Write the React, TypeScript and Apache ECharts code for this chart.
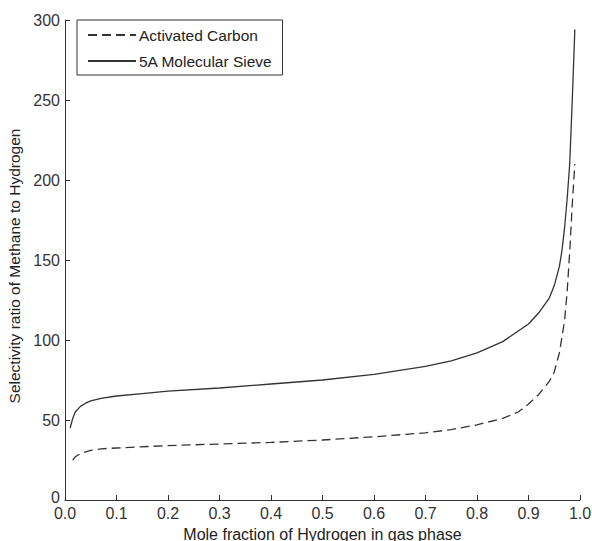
import React, { useEffect, useRef } from "react";
import * as echarts from "echarts";

const xSolid = [0.01, 0.015, 0.02, 0.03, 0.04, 0.05, 0.07, 0.1, 0.15, 0.2, 0.3, 0.4, 0.5, 0.6, 0.7, 0.75, 0.8, 0.85, 0.9, 0.92, 0.94, 0.95, 0.96, 0.965, 0.97, 0.975, 0.98, 0.985, 0.99];
const ySolid = [45, 51, 55, 58.5, 60.5, 62, 63.5, 65, 66.5, 68, 70, 72.5, 75, 78.5, 83.5, 87, 92, 99, 110, 117, 126, 134, 146, 156, 170, 188, 210, 250, 294];

const xDashed = [0.015, 0.02, 0.03, 0.05, 0.07, 0.1, 0.2, 0.3, 0.4, 0.5, 0.6, 0.7, 0.75, 0.8, 0.85, 0.88, 0.9, 0.92, 0.94, 0.95, 0.96, 0.97, 0.975, 0.98, 0.985, 0.99];
const yDashed = [25, 27, 29, 31, 32, 32.5, 34, 35, 36, 37.5, 39.5, 42, 44, 47, 51, 55, 60, 66, 74, 80, 92, 112, 130, 155, 185, 210];

const seriesNames = ["Activated Carbon", "5A Molecular Sieve"];
const xTitle = "Mole fraction of Hydrogen in gas phase";
const yTitle = "Selectivity ratio of Methane to Hydrogen";

const FONT = "'Liberation Sans', Arial, sans-serif";
const INK = "#333";

export default function App() {
  const ref = useRef<HTMLDivElement>(null);
  useEffect(() => {
    if (!ref.current) return;
    const chart = echarts.init(ref.current, undefined, { renderer: "svg" });
    chart.setOption({
      animation: false,
      backgroundColor: "#fff",
      textStyle: { fontFamily: FONT },
      grid: { left: 65, right: 12, top: 20, bottom: 41, containLabel: false, outerBoundsMode: "none" },
      legend: {
        orient: "vertical",
        left: 77,
        top: 20,
        padding: [7, 10, 6, 10],
        itemWidth: 48,
        itemHeight: 14,
        itemGap: 10,
        borderColor: INK,
        borderWidth: 1,
        backgroundColor: "#fff",
        itemStyle: { color: "transparent", borderWidth: 0, opacity: 0 },
        textStyle: { fontFamily: FONT, fontSize: 15.5, color: "#222", padding: [0, 0, 0, -2] },
        data: seriesNames,
      },
      xAxis: {
        type: "value",
        min: 0,
        max: 1,
        interval: 0.1,
        name: xTitle,
        nameLocation: "middle",
        nameGap: 26,
        nameTextStyle: { fontFamily: FONT, fontSize: 16, color: "#222" },
        axisLine: { show: true, lineStyle: { color: INK, width: 1 } },
        axisTick: { show: true, inside: true, length: 5, lineStyle: { color: INK } },
        axisLabel: {
          fontFamily: FONT,
          fontSize: 16,
          lineHeight: 12,
          color: "#333",
          margin: 7,
          formatter: (v: number) => v.toFixed(1),
        },
        splitLine: { show: false },
      },
      yAxis: {
        type: "value",
        min: 0,
        max: 300,
        interval: 50,
        name: yTitle,
        nameLocation: "middle",
        nameGap: 43,
        nameTextStyle: { fontFamily: FONT, fontSize: 15.5, color: "#222", padding: [0, 12, 0, 0] },
        axisLine: { show: true, lineStyle: { color: INK, width: 1 } },
        axisTick: { show: true, inside: true, length: 5, lineStyle: { color: INK } },
        axisLabel: {
          fontFamily: FONT,
          fontSize: 16,
          lineHeight: 12,
          color: "#333",
          margin: 5,
          formatter: (v: number) => (v === 0 ? "{z|0}" : String(v)),
          rich: { z: { fontFamily: FONT, fontSize: 16, lineHeight: 12, color: "#333", padding: [0, 0, 5, 0] } },
        },
        splitLine: { show: false },
      },
      series: [
        {
          name: seriesNames[0],
          type: "line",
          symbol: "none",
          smooth: false,
          data: xDashed.map((x, i) => [x, yDashed[i]]),
          lineStyle: { color: INK, width: 1.3, type: [9, 5] },
          itemStyle: { color: INK },
        },
        {
          name: seriesNames[1],
          type: "line",
          symbol: "none",
          smooth: false,
          data: xSolid.map((x, i) => [x, ySolid[i]]),
          lineStyle: { color: INK, width: 1.3, type: "solid" },
          itemStyle: { color: INK },
        },
      ],
    });
    return () => chart.dispose();
  }, []);
  return <div ref={ref} style={{ width: 592, height: 541, position: "absolute", left: 0, top: 0 }} />;
}
